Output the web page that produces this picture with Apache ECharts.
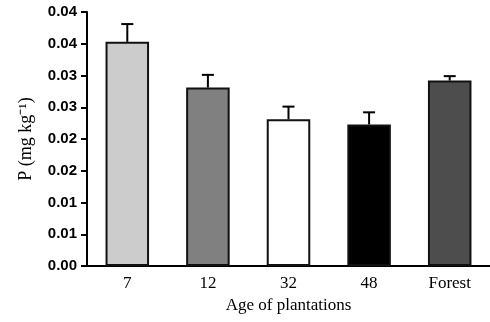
<!doctype html>
<html>
<head>
<meta charset="utf-8"/>
<script src="https://cdn.jsdelivr.net/npm/echarts@6/dist/echarts.min.js"></script>
<style>
*{margin:0;padding:0;}
body{background:#fff;}
#main{width:490px;height:322px;}
</style>
</head>
<body>
<div id="main"></div>
<script>
// plantation age groups and soil P (mean + error)
var ages = ['7', '12', '32', '48', 'Forest'];
var pMeans = [0.0353, 0.0281, 0.0231, 0.0223, 0.0292];
var pErrors = [0.0028, 0.0020, 0.0020, 0.0019, 0.0007];
var barColors = ['#cccccc', '#808080', '#ffffff', '#000000', '#4d4d4d'];
var yTickLabels = ['0.00', '0.01', '0.01', '0.02', '0.02', '0.03', '0.03', '0.04', '0.04'];

var chart = echarts.init(document.getElementById('main'));

var option = {
  animation: false,
  grid: {left: 87, top: 12, width: 408, height: 254},
  xAxis: {
    type: 'category',
    data: ages,
    axisLine: {lineStyle: {color: '#000', width: 2}},
    axisTick: {length: 8, lineStyle: {color: '#000', width: 2}},
    axisLabel: {color: '#000', fontFamily: 'Liberation Serif', fontSize: 17, margin: 9},
    name: 'Age of plantations',
    nameLocation: 'middle',
    nameGap: 31,
    nameTextStyle: {color: '#000', fontFamily: 'Liberation Serif', fontSize: 17}
  },
  yAxis: {
    type: 'value',
    min: 0,
    max: 0.04,
    interval: 0.005,
    splitLine: {show: false},
    axisLine: {show: true, lineStyle: {color: '#000', width: 2}},
    axisTick: {show: true, length: 6, lineStyle: {color: '#000', width: 2}},
    axisLabel: {
      color: '#000', fontFamily: 'Liberation Sans', fontWeight: 'bold', fontSize: 15, margin: 10,
      formatter: function (v) { return yTickLabels[Math.round(v / 0.005)]; }
    },
    name: 'P (mg kg\u207B\u00B9)',
    nameLocation: 'middle',
    nameGap: 52,
    nameTextStyle: {color: '#000', fontFamily: 'Liberation Serif', fontSize: 18}
  },
  series: [
    {
      type: 'bar',
      barWidth: '54%',
      data: pMeans.map(function (v, i) {
        return {value: v, itemStyle: {color: barColors[i], borderColor: '#111', borderWidth: 2}};
      })
    },
    {
      type: 'custom',
      z: 3,
      data: ages.map(function (a, i) { return [i, pMeans[i], pErrors[i]]; }),
      renderItem: function (params, api) {
        var base = api.coord([api.value(0), api.value(1)]);
        var top = api.coord([api.value(0), api.value(1) + api.value(2)]);
        return {
          type: 'group',
          children: [
            {type: 'line', shape: {x1: base[0], y1: base[1], x2: top[0], y2: top[1]},
             style: {stroke: '#000', lineWidth: 2}},
            {type: 'line', shape: {x1: top[0] - 6, y1: top[1], x2: top[0] + 6, y2: top[1]},
             style: {stroke: '#000', lineWidth: 2}}
          ]
        };
      }
    }
  ]
};

chart.setOption(option);
</script>
</body>
</html>
